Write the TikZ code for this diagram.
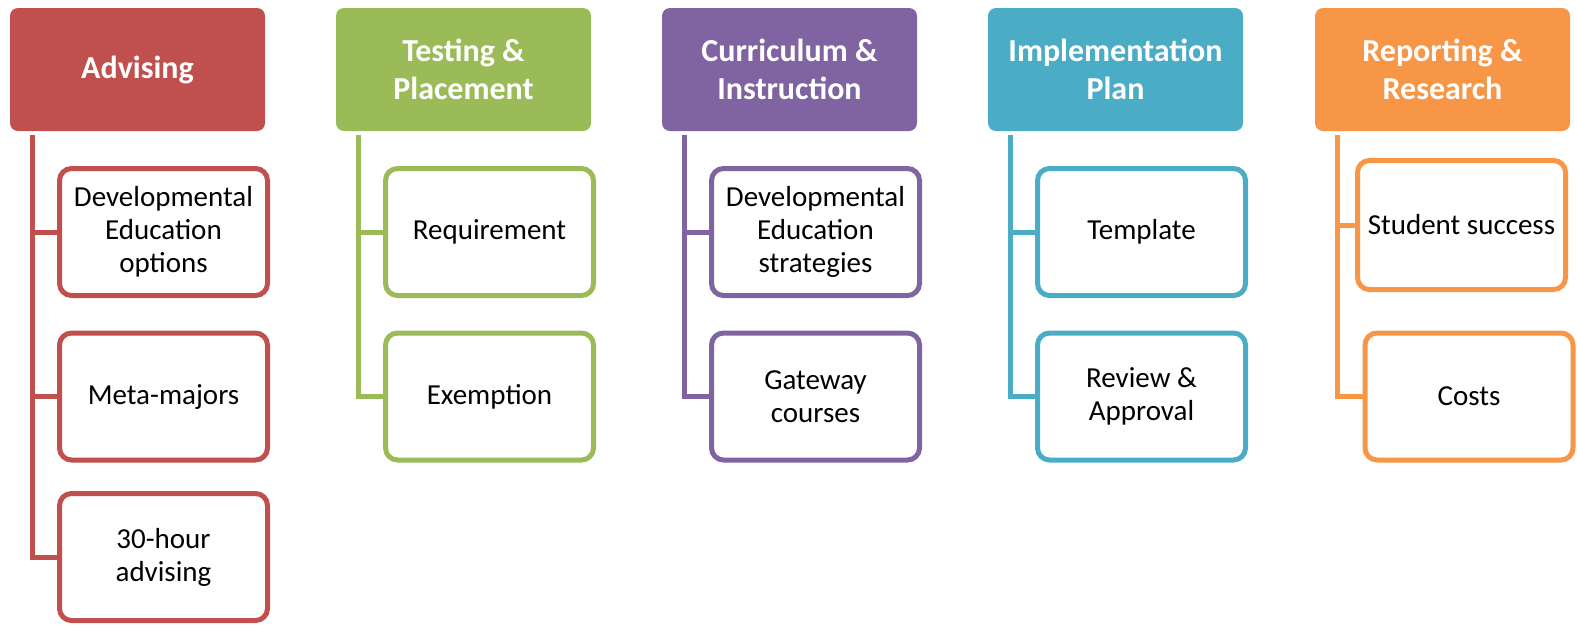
\documentclass[tikz,border=0pt]{standalone}
\usepackage{fontspec}
\setmainfont{Carlito}
\definecolor{cRed}{HTML}{C0504D}
\definecolor{cGreen}{HTML}{9BBB59}
\definecolor{cPurple}{HTML}{8064A2}
\definecolor{cBlue}{HTML}{4BACC6}
\definecolor{cOrange}{HTML}{F79646}
\tikzset{
  head/.style={rectangle, rounded corners=8pt, fill=#1, minimum width=255pt, minimum height=123pt,
    inner sep=0pt, outer sep=0pt, text=white, font=\fontsize{32}{38}\selectfont\bfseries, align=center},
  leaf/.style={rectangle, rounded corners=12pt, draw=#1, line width=5pt, fill=white,
    minimum width=208pt, minimum height=127pt, inner sep=0pt, outer sep=0pt,
    font=\fontsize{29}{33}\selectfont, align=center},
  spine/.style={draw=#1, line width=5pt},
}
\begin{document}
\begin{tikzpicture}[x=1pt,y=-1pt]
\useasboundingbox[fill=white] (0,0) rectangle (1577,625);

% Column 1: Advising
\node[head=cRed] (h1) at (137.5,69.5) {Advising};
\coordinate (s1) at (32.5,135);
\node[leaf=cRed] (c11) at (163.5,232) {Developmental\\Education\\options};
\node[leaf=cRed] (c12) at (163.5,396.5) {Meta-majors};
\node[leaf=cRed] (c13) at (163.5,557) {30-hour\\advising};
\draw[spine=cRed] (s1) |- (c13.west);
\draw[spine=cRed] (c11.west) -- (c11.west -| s1);
\draw[spine=cRed] (c12.west) -- (c12.west -| s1);

% Column 2: Testing & Placement
\node[head=cGreen] (h2) at (463.5,69.5) {Testing \&\\Placement};
\coordinate (s2) at (358.5,135);
\node[leaf=cGreen] (c21) at (489.5,232) {Requirement};
\node[leaf=cGreen] (c22) at (489.5,396.5) {Exemption};
\draw[spine=cGreen] (s2) |- (c22.west);
\draw[spine=cGreen] (c21.west) -- (c21.west -| s2);

% Column 3: Curriculum & Instruction
\node[head=cPurple] (h3) at (789.5,69.5) {Curriculum \&\\Instruction};
\coordinate (s3) at (684.5,135);
\node[leaf=cPurple] (c31) at (815.5,232) {Developmental\\Education\\strategies};
\node[leaf=cPurple] (c32) at (815.5,396.5) {Gateway\\courses};
\draw[spine=cPurple] (s3) |- (c32.west);
\draw[spine=cPurple] (c31.west) -- (c31.west -| s3);

% Column 4: Implementation Plan
\node[head=cBlue] (h4) at (1115.5,69.5) {Implementation\\Plan};
\coordinate (s4) at (1010.5,135);
\node[leaf=cBlue] (c41) at (1141.5,232) {Template};
\node[leaf=cBlue] (c42) at (1141.5,396.5) {Review \&\\Approval};
\draw[spine=cBlue] (s4) |- (c42.west);
\draw[spine=cBlue] (c41.west) -- (c41.west -| s4);

% Column 5: Reporting & Research
\node[head=cOrange] (h5) at (1442.5,69.5) {Reporting \&\\Research};
\coordinate (s5) at (1337.5,135);
\node[leaf=cOrange, minimum height=129pt] (c51) at (1461.5,225) {Student success};
\node[leaf=cOrange] (c52) at (1469,396.5) {Costs};
\draw[spine=cOrange] (s5) |- (c52.west);
\draw[spine=cOrange] (c51.west) -- (c51.west -| s5);
\end{tikzpicture}
\end{document}
